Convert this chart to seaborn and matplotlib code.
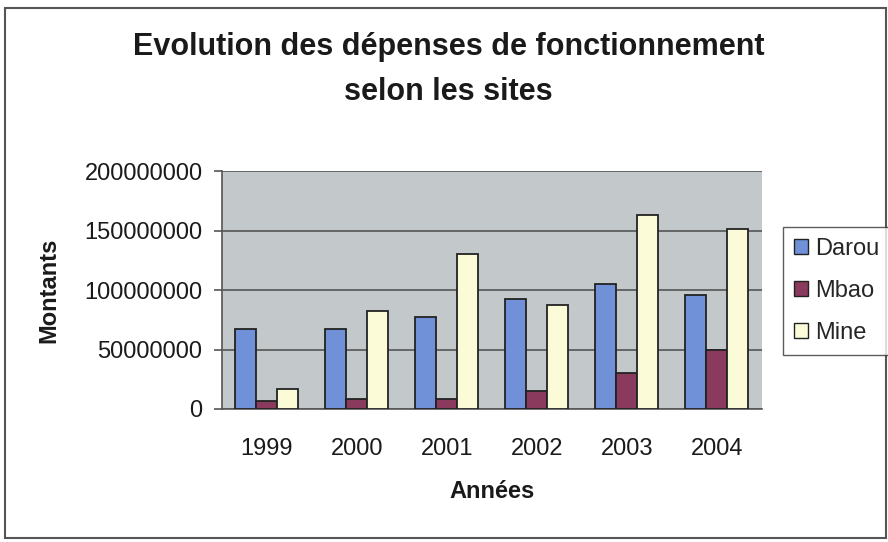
import matplotlib
matplotlib.use("Agg")
import matplotlib.pyplot as plt
import matplotlib.patches as mpatches
import pandas as pd
import seaborn as sns

years = ["1999", "2000", "2001", "2002", "2003", "2004"]
sites = ["Darou", "Mbao", "Mine"]
darou = [67000000, 67000000, 77500000, 92500000, 105000000, 95500000]
mbao = [7000000, 8000000, 8000000, 15000000, 30500000, 49500000]
mine = [17000000, 82500000, 130000000, 87500000, 163000000, 151000000]
yticks = [0, 50000000, 100000000, 150000000, 200000000]

colors = {"Darou": "#7090d8", "Mbao": "#8a3a5c", "Mine": "#fbfbd8"}

# long format for seaborn
df = pd.DataFrame({"Année": years, "Darou": darou, "Mbao": mbao, "Mine": mine})
df = df.melt(id_vars="Année", var_name="Site", value_name="Montant")

sns.set_style("white")
plt.rcParams["font.family"] = ["Liberation Sans", "DejaVu Sans"]

fig = plt.figure(figsize=(8.88, 5.42), dpi=100)
ax = fig.add_axes([0.25, 0.2454, 0.608, 0.439])
ax.set_facecolor("#c3c8cb")

sns.barplot(data=df, x="Année", y="Montant", hue="Site", hue_order=sites,
            palette=colors, width=0.7, edgecolor="#222222", linewidth=1.3,
            saturation=1, ax=ax, legend=False, zorder=3)

ax.set_ylim(0, 200000000)
ax.set_xlim(-0.5, 5.5)
ax.set_yticks(yticks)
ax.set_yticklabels([str(v) for v in yticks], fontsize=17, color="#1a1a1a")
ax.set_xticks([i for i in range(len(years))])
ax.set_xticklabels(years, fontsize=17, color="#1a1a1a")
ax.yaxis.grid(True, color="#555555", linewidth=1.2, zorder=0)
ax.set_axisbelow(True)

# category boundary ticks on x axis, like the spreadsheet chart
ax.set_xticks([i - 0.5 for i in range(len(years) + 1)], minor=True)
ax.tick_params(axis="x", which="major", length=0, pad=21)
ax.tick_params(axis="x", which="minor", length=6, width=1.2, color="#555555", direction="out")
ax.tick_params(axis="y", length=6, width=1.2, color="#555555", direction="out", pad=8, left=True)

for side in ["top", "right"]:
    ax.spines[side].set_visible(False)
ax.spines["left"].set_color("#555555")
ax.spines["bottom"].set_color("#555555")
ax.spines["left"].set_linewidth(1.2)
ax.spines["bottom"].set_linewidth(1.2)

ax.set_xlabel("Années", fontsize=17, fontweight="bold", color="#1a1a1a", labelpad=14)
ax.set_ylabel("Montants", fontsize=17, fontweight="bold", color="#1a1a1a", labelpad=17)

fig.text(0.505, 0.872, "Evolution des dépenses de fonctionnement\nselon les sites",
         ha="center", va="center", fontsize=22, fontweight="bold", color="#1a1a1a",
         linespacing=1.65)

handles = [mpatches.Patch(facecolor=colors[s], edgecolor="#222222", label=s) for s in sites]
leg = fig.legend(handles=handles, loc="center left", bbox_to_anchor=(0.882, 0.463),
                 borderaxespad=0, fontsize=17, frameon=True, fancybox=False,
                 handlelength=0.6, handleheight=0.6, handletextpad=0.3,
                 labelspacing=0.85, borderpad=0.45, edgecolor="#333333")
leg.get_frame().set_linewidth(1.0)

# outer chart border
fig.patches.append(mpatches.Rectangle((0.006, 0.008), 0.992, 0.977, transform=fig.transFigure,
                                      fill=False, edgecolor="#555555", linewidth=1.5))

fig.savefig("out.png", dpi=100)
